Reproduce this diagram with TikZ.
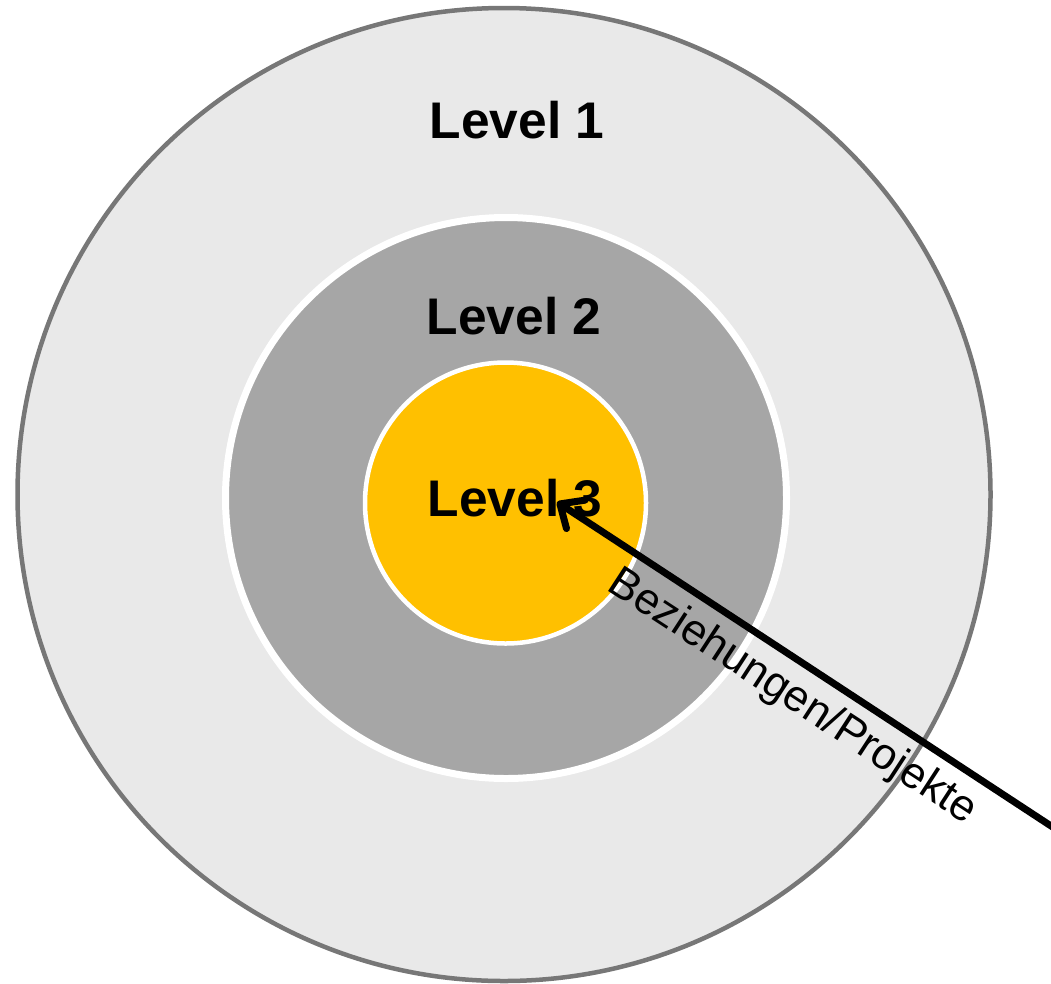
\documentclass[tikz,border=0pt]{standalone}
\usepackage{fontspec}
\setmainfont{Liberation Sans}
\usetikzlibrary{arrows.meta}
\definecolor{ringlight}{HTML}{E9E9E9}
\definecolor{ringedge}{HTML}{777777}
\definecolor{ringmid}{HTML}{A6A6A6}
\definecolor{coreyellow}{HTML}{FFC000}
\begin{document}
\begin{tikzpicture}[x=1pt,y=-1pt,
  ring/.style={circle, inner sep=0pt, outer sep=0pt},
  levellabel/.style={font=\bfseries\fontsize{51.5}{60}\selectfont, anchor=base, inner sep=0pt},
  flowlabel/.style={font=\fontsize{44}{52}\selectfont, anchor=base, inner sep=0pt, rotate=-33.07},
  flowarrow/.style={line width=7pt, line cap=round, -{Straight Barb[length=19pt, width=34pt, round]}}]
\useasboundingbox (0,0) rectangle (1051,983);
\node[ring, minimum size=973pt, fill=ringlight, draw=ringedge, line width=4.5pt] (outer) at (504,494.5) {};
\node[ring, minimum size=561pt, fill=ringmid, draw=white, line width=7pt] (middle) at (506,498) {};
\node[ring, minimum size=281pt, fill=coreyellow, draw=white, line width=4.5pt] (inner) at (505.5,503) {};
\node[levellabel] (l1) at (517,138) {Level 1};
\node[levellabel] (l2) at (514,334) {Level 2};
\node[levellabel] (l3) at (515,516) {Level 3};
\coordinate (tip) at (557,502);
\coordinate (start) at (1070,838.4);
\draw[flowarrow] (start) -- (tip);
\node[flowlabel] (rel) at (786,707) {Beziehungen/Projekte};
\end{tikzpicture}
\end{document}
